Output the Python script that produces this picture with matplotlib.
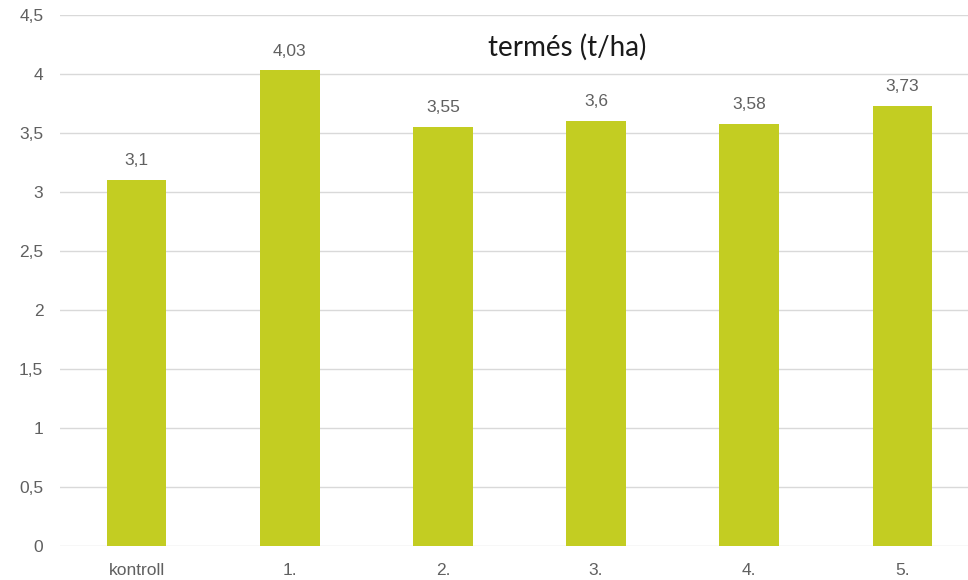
import matplotlib.pyplot as plt

categories = ['kontroll', '1.', '2.', '3.', '4.', '5.']
yields = [3.1, 4.03, 3.55, 3.6, 3.58, 3.73]
yticks = [0, 0.5, 1, 1.5, 2, 2.5, 3, 3.5, 4, 4.5]


def fmt(v):
    s = ('%g' % v).replace('.', ',')
    return s


fig = plt.figure(figsize=(9.68, 5.80), dpi=100)
ax = fig.add_axes([60 / 968, 34 / 580, 919 / 968, 531 / 580])

x = list(range(len(categories)))
bars = ax.bar(x, yields, width=0.39, color='#C3CD22', zorder=3)

for xi, v in zip(x, yields):
    ax.text(xi, v + 0.1, fmt(v), ha='center', va='bottom',
            fontsize=12.5, color='#606060', family='Liberation Sans')

ax.set_xlim(-0.5, len(categories) - 0.5)
ax.set_ylim(0, 4.5)
ax.set_yticks(yticks)
ax.set_yticklabels([fmt(t) for t in yticks])
ax.set_xticks(x)
ax.set_xticklabels(categories)
ax.grid(axis='y', color='#D9D9D9', linewidth=1, zorder=0)
ax.tick_params(axis='y', length=0, labelsize=12.5, labelcolor='#606060', pad=12)
ax.tick_params(axis='x', length=0, labelsize=12.5, labelcolor='#606060', pad=12)
for lab in ax.get_xticklabels() + ax.get_yticklabels():
    lab.set_family('Liberation Sans')
for s in ax.spines.values():
    s.set_visible(False)

fig.text(567 / 968, 1 - 47 / 580, 'termés (t/ha)', ha='center', va='center',
         fontsize=20, color='#1a1a1a', family='Lato')

fig.savefig('out.png', dpi=100)
